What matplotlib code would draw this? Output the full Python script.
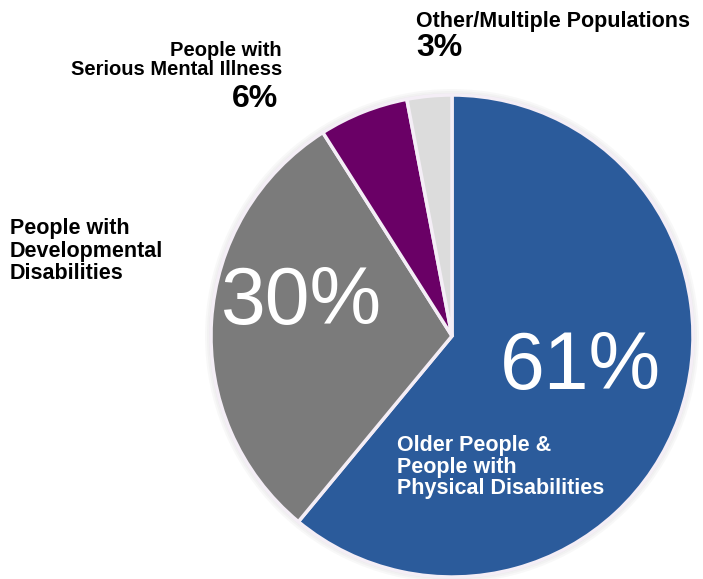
import matplotlib.pyplot as plt
from matplotlib.patches import Circle

# udzialy populacji (zgodnie z ruchem wskazowek zegara od gory)
kategorie = ["Older People &\nPeople with\nPhysical Disabilities",
             "People with\nDevelopmental\nDisabilities",
             "People with\nSerious Mental Illness",
             "Other/Multiple Populations"]
wartosci = [61, 30, 6, 3]
kolory = ["#2B5B9B", "#7B7B7B", "#6A0066", "#DCDCDC"]

W, H = 703, 579
fig = plt.figure(figsize=(W / 100, H / 100), dpi=100)
ax = fig.add_axes([0, 0, 1, 1])

cx, cy, r = 452, H - 336, 241

# delikatny cien wokol kola
for i, a in enumerate([0.05, 0.05, 0.06]):
    ax.add_patch(Circle((cx, cy), r + 6 - 2 * i, color="#888888", alpha=a, lw=0, zorder=0))

ax.pie(wartosci, colors=kolory, startangle=90, counterclock=False,
       center=(cx, cy), radius=r, frame=True,
       wedgeprops=dict(edgecolor="#F4EEF6", linewidth=2.5))
ax.set_xlim(0, W)
ax.set_ylim(0, H)
ax.set_aspect("equal")
ax.axis("off")

sans = ["Liberation Sans", "DejaVu Sans"]

def y(p):
    return H - p

ax.text(416, y(21), kategorie[3], family=sans, fontweight="bold",
        fontsize=15.5, ha="left", va="center")
ax.text(416, y(48), f"{wartosci[3]}%", family=sans, fontweight="bold",
        fontsize=23, ha="left", va="center")

ax.text(282, y(60), kategorie[2], family=sans, fontweight="bold",
        fontsize=14.5, ha="right", va="center", linespacing=1.0)
ax.text(278, y(99), f"{wartosci[2]}%", family=sans, fontweight="bold",
        fontsize=23, ha="right", va="center")

ax.text(10, y(251), kategorie[1], family=sans, fontweight="bold",
        fontsize=15.5, ha="left", va="center", linespacing=1.07)

ax.text(302, y(303), f"{wartosci[1]}%", family=sans, color="white",
        fontsize=58, ha="center", va="center")
ax.text(580, y(368), f"{wartosci[0]}%", family=sans, color="white",
        fontsize=58, ha="center", va="center")

ax.text(397, y(467), kategorie[0], family=sans, fontweight="bold", color="white",
        fontsize=15.5, ha="left", va="center", linespacing=1.05)

fig.savefig("out.png", dpi=100)
